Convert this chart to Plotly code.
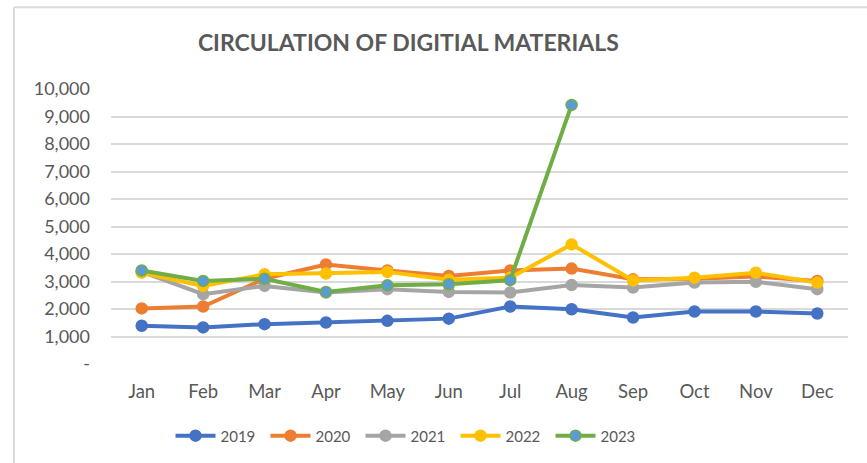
import plotly.graph_objects as go

months = ["Jan", "Feb", "Mar", "Apr", "May", "Jun", "Jul", "Aug", "Sep", "Oct", "Nov", "Dec"]
s2019 = [1390, 1330, 1450, 1510, 1570, 1650, 2090, 1990, 1690, 1910, 1910, 1835]
s2020 = [2020, 2090, 3100, 3620, 3400, 3200, 3400, 3470, 3080, 3100, 3180, 3020]
s2021 = [3350, 2540, 2840, 2600, 2720, 2620, 2600, 2870, 2780, 2960, 2990, 2720]
s2022 = [3320, 2840, 3260, 3290, 3350, 3060, 3140, 4350, 3040, 3140, 3320, 2960]
s2023 = [3400, 3020, 3100, 2620, 2860, 2900, 3050, 9420, None, None, None, None]
tick_vals = [0, 1000, 2000, 3000, 4000, 5000, 6000, 7000, 8000, 9000, 10000]
tick_text = ["-", "1,000", "2,000", "3,000", "4,000", "5,000", "6,000", "7,000", "8,000", "9,000", "10,000"]

series = [
    ("2019", s2019, "#4472C4", "#4472C4"),
    ("2020", s2020, "#ED7D31", "#ED7D31"),
    ("2021", s2021, "#A5A5A5", "#A5A5A5"),
    ("2022", s2022, "#FFC000", "#FFC000"),
    ("2023", s2023, "#70AD47", "#5B9BD5"),
]

fig = go.Figure()
for name, vals, lc, mc in series:
    fig.add_trace(go.Scatter(
        x=months, y=vals, name=name, mode="lines+markers",
        line=dict(color=lc, width=4),
        marker=dict(size=11, color=mc, line=dict(color=lc, width=1.5)),
        connectgaps=False,
    ))

FONT = "Lato, Liberation Sans, sans-serif"
fig.update_layout(
    width=867, height=463,
    margin=dict(l=111, r=19, t=89, b=98),
    paper_bgcolor="white", plot_bgcolor="white",
    font=dict(family=FONT, color="#595959", size=15),
    title=dict(text="<b>CIRCULATION OF DIGITIAL MATERIALS</b>", x=0.471, xanchor="center",
               y=0.907, yanchor="middle", font=dict(size=23, color="#595959", family=FONT)),
    showlegend=True,
    legend=dict(orientation="h", x=0.403, xanchor="center", y=-0.257, yanchor="middle",
                font=dict(size=15, color="#595959"), itemwidth=40, traceorder="normal",
                entrywidth=40, entrywidthmode="pixels"),
    xaxis=dict(showgrid=False, showline=False, ticks="", tickfont=dict(size=18.5, color="#595959"),
               range=[-0.5, 11.5], ticklabelstandoff=14),
    yaxis=dict(range=[0, 10000], tickvals=tick_vals, ticktext=tick_text, showgrid=True,
               gridcolor="#D9D9D9", gridwidth=1.5, zeroline=False, showline=False,
               tickfont=dict(size=18, color="#595959"), ticklen=0, ticks="", ticklabelstandoff=20),
    shapes=[
        dict(type="line", xref="paper", yref="paper", x0=-0.1316, x1=-0.1316, y0=1.297, y1=-0.36,
             line=dict(color="#D9D9D9", width=2)),
        dict(type="line", xref="paper", yref="paper", x0=-0.1316, x1=1.1, y0=1.297, y1=1.297,
             line=dict(color="#D9D9D9", width=2)),
    ],
)
fig.write_html("out.html", config={"displayModeBar": False},
               post_script="document.body.style.margin='0px';")
